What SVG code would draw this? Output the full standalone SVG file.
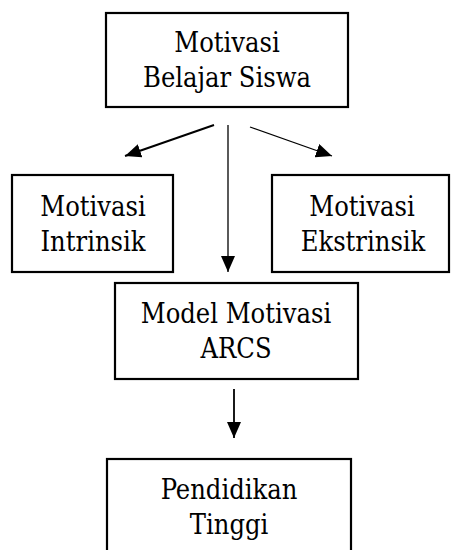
<svg xmlns="http://www.w3.org/2000/svg" width="452" height="550" viewBox="0 0 452 550">
<style>
.box{fill:#fff;stroke:#000;stroke-width:2.2}
.t{font-family:"DejaVu Serif Condensed","DejaVu Serif",serif;font-stretch:condensed;font-size:27px;fill:#000;text-anchor:middle}
.c{fill:none;stroke:#000}
</style>
<defs>
<marker id="ah" viewBox="0 0 16 14" refX="16" refY="7" markerWidth="16" markerHeight="14" markerUnits="userSpaceOnUse" orient="auto">
<path d="M0,0 L16,7 L0,14 Z" fill="#000"/>
</marker>
</defs>
<rect width="452" height="550" fill="#fff"/>
<g id="connectors">
<line class="c" x1="214" y1="125" x2="125" y2="156" stroke-width="2" marker-end="url(#ah)"/>
<line class="c" x1="250" y1="127" x2="332" y2="156" stroke-width="1.3" marker-end="url(#ah)"/>
<line class="c" x1="228" y1="125" x2="228" y2="272" stroke-width="1.3" marker-end="url(#ah)"/>
<line class="c" x1="234" y1="389" x2="234" y2="438" stroke="#888" stroke-width="1.8" marker-end="url(#ah)"/>
</g>
<g id="node-motivasi-belajar">
<rect class="box" x="106" y="13" width="242" height="94"/>
<text class="t" x="227" y="52">Motivasi</text>
<text class="t" x="227" y="87">Belajar Siswa</text>
</g>
<g id="node-intrinsik">
<rect class="box" x="12" y="175" width="161" height="97"/>
<text class="t" x="93" y="216">Motivasi</text>
<text class="t" x="93" y="251">Intrinsik</text>
</g>
<g id="node-ekstrinsik">
<rect class="box" x="272" y="175" width="177" height="97"/>
<text class="t" x="362" y="216">Motivasi</text>
<text class="t" x="363" y="251">Ekstrinsik</text>
</g>
<g id="node-arcs">
<rect class="box" x="115" y="283" width="243" height="96"/>
<text class="t" x="236" y="323">Model Motivasi</text>
<text class="t" x="236" y="358">ARCS</text>
</g>
<g id="node-pendidikan">
<rect class="box" x="107" y="459" width="244" height="100"/>
<text class="t" x="229" y="499">Pendidikan</text>
<text class="t" x="229" y="534">Tinggi</text>
</g>
</svg>
